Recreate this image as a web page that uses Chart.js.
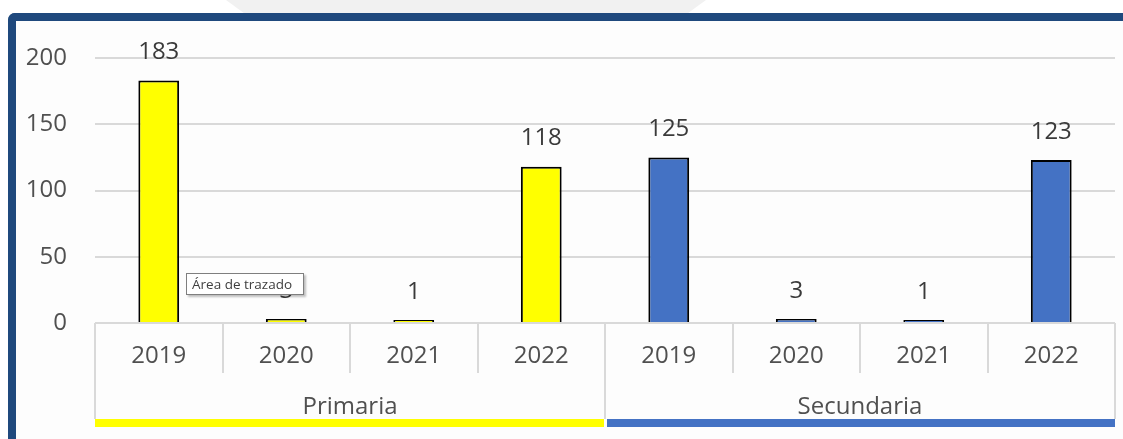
<!DOCTYPE html>
<html>
<head>
<meta charset="utf-8">
<script src="https://cdn.jsdelivr.net/npm/chart.js@4"></script>
<style>
  body { margin: 0; background: #ffffff; }
  #page { position: relative; width: 1123px; height: 439px; overflow: hidden; }
  #mark { position: absolute; left: 226px; top: 0; width: 480px; height: 14px; background: #f1f1f1;
          clip-path: polygon(0 0, 100% 0, 96% 100%, 4% 100%); }
  #frame { position: absolute; left: 8px; top: 13px; width: 2000px; height: 1000px;
           border-top: 8px solid #1f497d; border-left: 8px solid #1f497d; border-top-left-radius: 7px;
           background: #fdfdfd; }
  #box { position: absolute; left: 0; top: 0; width: 1123px; height: 439px; }
  #tip { position: absolute; left: 186px; top: 273px; width: 118px; height: 22px; background: #fff;
         border: 1px solid #7f7f7f; box-shadow: 2px 2px 2px rgba(0,0,0,0.25);
         font: 13.5px "Open Sans", sans-serif; color: #404040; line-height: 21px; padding-left: 5px; box-sizing: border-box; }
</style>
</head>
<body>
<div id="page">
  <div id="mark"></div>
  <div id="frame"></div>
  <div id="box"><canvas id="chart"></canvas></div>
  <div id="tip">Área de trazado</div>
</div>
<script>
// Data
const years = ['2019', '2020', '2021', '2022', '2019', '2020', '2021', '2022'];
const groups = ['Primaria', 'Secundaria'];
const primaria = [183, 3, 1, 118, null, null, null, null];
const secundaria = [null, null, null, null, 125, 3, 1, 123];
const yTicks = [0, 50, 100, 150, 200];
const stripColors = ['#ffff00', '#4472c4'];

const tickFont = { family: 'Open Sans', size: 24 };

// value labels above the bars
const valueLabels = {
    id: 'valueLabels',
    afterDatasetsDraw(chart) {
        const ctx = chart.ctx;
        ctx.save();
        ctx.font = '24px "Open Sans"';
        ctx.fillStyle = '#3a3a3a';
        ctx.textAlign = 'center';
        ctx.textBaseline = 'middle';
        chart.data.datasets.forEach((ds, i) => {
            chart.getDatasetMeta(i).data.forEach((el, j) => {
                if (ds.data[j] == null) return;
                ctx.fillText(String(ds.data[j]), el.x, el.y - 28);
            });
        });
        ctx.restore();
    }
};

// coloured strip under each group label
const groupStrip = {
    id: 'groupStrip',
    afterDraw(chart) {
        const x2 = chart.scales.x2;
        const ctx = chart.ctx;
        const half = (x2.getPixelForValue(1) - x2.getPixelForValue(0)) / 2;
        groups.forEach((g, i) => {
            const c = x2.getPixelForValue(i);
            ctx.fillStyle = stripColors[i];
            ctx.fillRect(c - half + (i ? 2 : 0), x2.bottom, 2 * half - (i ? 2 : 1), 8);
        });
    }
};

const ctx = document.getElementById('chart').getContext('2d');
new Chart(ctx, {
    type: 'bar',
    data: {
        labels: years,
        datasets: [
            {
                label: 'Primaria',
                data: primaria,
                backgroundColor: '#ffff00',
                borderColor: '#000000',
                borderWidth: 2,
                borderSkipped: 'bottom',
                minBarLength: 3
            },
            {
                label: 'Secundaria',
                data: secundaria,
                backgroundColor: '#4472c4',
                borderColor: '#000000',
                borderWidth: 2,
                borderSkipped: 'bottom',
                minBarLength: 3
            }
        ]
    },
    options: {
        responsive: true,
        maintainAspectRatio: false,
        animation: false,
        datasets: {
            bar: { grouped: false, categoryPercentage: 1, barPercentage: 0.32 }
        },
        layout: { padding: { top: 58, right: 8, bottom: 20, left: 0 } },
        plugins: {
            legend: { display: false },
            tooltip: { enabled: false }
        },
        scales: {
            y: {
                min: 0,
                max: 200,
                afterBuildTicks: scale => { scale.ticks = yTicks.map(v => ({ value: v })); },
                afterFit: scale => { scale.width = 95; },
                border: { display: false },
                grid: { color: '#d9d9d9', lineWidth: 2, drawTicks: false },
                ticks: { font: tickFont, color: '#505050', padding: 28 }
            },
            x: {
                weight: 0,
                offset: true,
                afterFit: scale => { scale.height = 50; },
                border: { display: false },
                grid: { offset: true, drawOnChartArea: false, tickLength: 50, color: '#d9d9d9', lineWidth: 2 },
                ticks: { font: tickFont, color: '#505050', padding: -31, maxRotation: 0, autoSkip: false }
            },
            x2: {
                type: 'category',
                labels: groups,
                position: 'bottom',
                weight: 1,
                offset: true,
                afterFit: scale => { scale.height = 46; },
                border: { display: false },
                grid: { offset: true, drawOnChartArea: false, tickLength: 46, color: '#d9d9d9', lineWidth: 2 },
                ticks: { font: tickFont, color: '#505050', padding: -26, maxRotation: 0 }
            }
        }
    },
    plugins: [valueLabels, groupStrip]
});
</script>
</body>
</html>
